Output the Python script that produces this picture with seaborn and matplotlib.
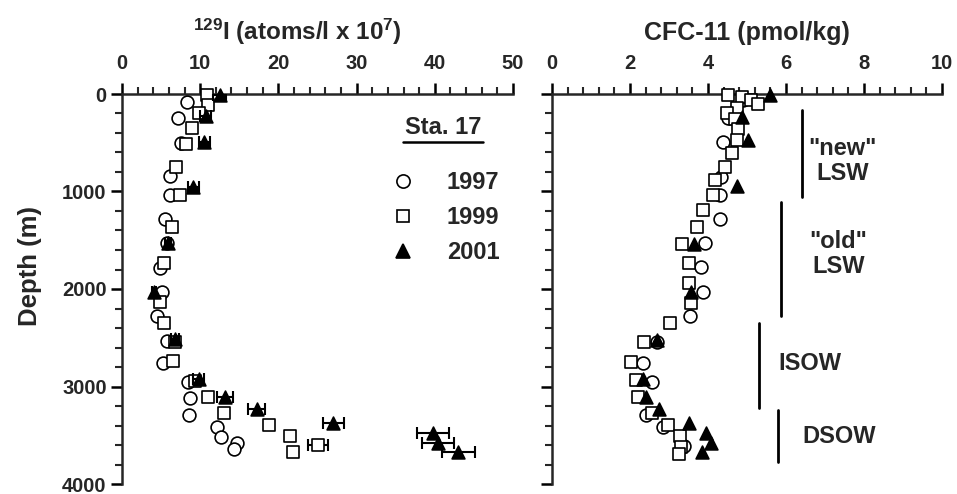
import numpy as np
import pandas as pd
import seaborn as sns
import matplotlib
matplotlib.use("Agg")
import matplotlib.pyplot as plt
from matplotlib.ticker import MultipleLocator
from matplotlib.lines import Line2D

# ---------------- data: 129I (atoms/l x 1e7) ----------------
i_depth_1997 = [80, 250, 505, 840, 1036, 1285, 1525, 1788, 2028, 2277, 2530, 2756,
                2950, 3120, 3292, 3418, 3515, 3583, 3644]
i_val_1997 = [8.3, 7.1, 7.6, 6.2, 6.2, 5.5, 5.8, 4.9, 5.1, 4.5, 5.8, 5.2,
              8.5, 8.7, 8.6, 12.1, 12.6, 14.7, 14.3]

i_depth_1999 = [10, 115, 200, 350, 513, 745, 1036, 1360, 1730, 2130, 2345, 2545,
                2738, 2940, 3110, 3268, 3395, 3508, 3600, 3668]
i_val_1999 = [10.9, 11.0, 9.8, 9.0, 8.2, 6.9, 7.4, 6.4, 5.4, 4.9, 5.4, 6.8,
              6.5, 9.3, 11.0, 13.0, 18.8, 21.5, 25.1, 21.9]
i_err_1999 = [0, 0, 0, 0, 0, 0, 0, 0, 0, 0, 0, 0,
              0, 0, 0, 0, 0, 0, 1.3, 0]

i_depth_2001 = [10, 230, 495, 957, 1525, 2030, 2516, 2926, 3110, 3234, 3378, 3480, 3575, 3668]
i_val_2001 = [12.5, 10.7, 10.5, 9.1, 5.9, 4.1, 6.8, 9.8, 13.2, 17.2, 27.0, 39.8, 40.4, 43.0]
i_err_2001 = [0.8, 0.7, 0.7, 0.7, 0.4, 0.3, 0.5, 0.7, 1.0, 1.1, 1.35, 2.05, 2.0, 2.1]

# ---------------- data: CFC-11 (pmol/kg) ----------------
c_depth_1997 = [60, 250, 489, 848, 1036, 1285, 1525, 1778, 2028, 2277, 2540, 2756,
                2950, 3292, 3418, 3610]
c_val_1997 = [4.9, 4.5, 4.38, 4.33, 4.31, 4.31, 3.92, 3.81, 3.86, 3.54, 2.68, 2.33,
              2.56, 2.41, 2.84, 3.38]

c_depth_1999 = [10, 30, 60, 100, 140, 200, 260, 360, 470, 610, 745, 880, 1036, 1190,
                1360, 1538, 1737, 1935, 2140, 2345, 2540, 2745, 2933, 3110, 3275,
                3395, 3508, 3617, 3692]
c_val_1999 = [4.52, 4.86, 5.09, 5.29, 4.75, 4.48, 4.69, 4.78, 4.74, 4.61, 4.44, 4.18,
              4.14, 3.88, 3.73, 3.33, 3.50, 3.50, 3.56, 3.03, 2.36, 2.02, 2.15, 2.21,
              2.56, 2.98, 3.28, 3.30, 3.26]

c_depth_2001 = [10, 233, 472, 943, 1538, 2028, 2523, 2926, 3110, 3234, 3370, 3474, 3583, 3668]
c_val_2001 = [5.6, 4.86, 5.03, 4.75, 3.64, 3.56, 2.68, 2.34, 2.41, 2.75, 3.50, 3.95, 4.07, 3.84]

years = ["1997", "1999", "2001"]
station = "Sta. 17"

# water masses: label lines, bracket x (CFC units), depth range
wm_names = ['"new"\nLSW', '"old"\nLSW', "ISOW", "DSOW"]
wm_x = [6.40, 5.86, 5.31, 5.79]
wm_top = [164, 1105, 2352, 3241]
wm_bot = [1053, 2277, 3224, 3771]

# ---------------- style ----------------
sns.set_style("ticks")
plt.rcParams["font.family"] = ["Liberation Sans", "DejaVu Sans"]
plt.rcParams["font.weight"] = "bold"
plt.rcParams["axes.labelweight"] = "bold"
plt.rcParams["mathtext.fontset"] = "custom"
plt.rcParams["mathtext.rm"] = "Liberation Sans:bold"
plt.rcParams["mathtext.bf"] = "Liberation Sans:bold"
plt.rcParams["mathtext.it"] = "Liberation Sans:bold"

W, H = 957, 494
fig = plt.figure(figsize=(W / 100, H / 100), dpi=100)
axL = fig.add_axes([122 / W, 10 / H, 391 / W, 390 / H])
axR = fig.add_axes([552 / W, 10 / H, 390 / W, 390 / H])

MS = 85
LW = 1.2


def style(ax, xmax, major, minor, ylabels):
    ax.set_xlim(0, xmax)
    ax.set_ylim(4000, 0)
    ax.xaxis.tick_top()
    ax.xaxis.set_label_position("top")
    ax.xaxis.set_major_locator(MultipleLocator(major))
    ax.xaxis.set_minor_locator(MultipleLocator(minor))
    ax.yaxis.set_major_locator(MultipleLocator(1000))
    ax.yaxis.set_minor_locator(MultipleLocator(200))
    for s in ["right", "bottom"]:
        ax.spines[s].set_visible(False)
    for s in ["left", "top"]:
        ax.spines[s].set_linewidth(1.8)
    ax.tick_params(which="major", direction="out", length=8, width=1.8,
                   labelsize=14.5, pad=3, color="black")
    ax.tick_params(axis="x", which="major", pad=7)
    ax.tick_params(which="minor", direction="out", length=5, width=1.5)
    ax.tick_params(axis="y", labelleft=ylabels)
    ax.set_ylabel("")
    for lab in ax.get_xticklabels() + ax.get_yticklabels():
        lab.set_fontweight("bold")


def draw(ax, d97, v97, d99, v99, d01, v01, e99=None, e01=None):
    sns.scatterplot(x=v97, y=d97, ax=ax, marker="o", s=MS, color="white",
                    edgecolor="black", linewidth=LW, clip_on=False, zorder=3)
    if e99 is not None:
        ax.errorbar(v99, d99, xerr=e99, fmt="none", ecolor="black",
                    elinewidth=1.5, capsize=4, capthick=1.5, zorder=3)
    sns.scatterplot(x=v99, y=d99, ax=ax, marker="s", s=MS, color="white",
                    edgecolor="black", linewidth=LW, clip_on=False, zorder=4)
    if e01 is not None:
        ax.errorbar(v01, d01, xerr=e01, fmt="none", ecolor="black",
                    elinewidth=1.5, capsize=4, capthick=1.5, zorder=5)
    sns.scatterplot(x=v01, y=d01, ax=ax, marker="^", s=MS, color="black",
                    edgecolor="black", linewidth=LW, clip_on=False, zorder=6)


draw(axL, i_depth_1997, i_val_1997, i_depth_1999, i_val_1999,
     i_depth_2001, i_val_2001, i_err_1999, i_err_2001)
draw(axR, c_depth_1997, c_val_1997, c_depth_1999, c_val_1999,
     c_depth_2001, c_val_2001)

style(axL, 50, 10, 2, True)
style(axR, 10, 2, 0.4, False)

axL.set_xlabel(r"$^{129}$I (atoms/l x 10$^{7}$)", fontsize=17.5, labelpad=10,
               fontweight="bold", x=0.448)
axR.set_xlabel("CFC-11 (pmol/kg)", fontsize=18, labelpad=10, fontweight="bold")
axL.set_ylabel("Depth (m)", fontsize=18.5, fontweight="bold")
axL.yaxis.set_label_coords(-0.205, 0.56)

# legend
handles = [
    Line2D([], [], marker="o", ls="none", mfc="white", mec="black", ms=9.5, mew=LW),
    Line2D([], [], marker="s", ls="none", mfc="white", mec="black", ms=9.0, mew=LW),
    Line2D([], [], marker="^", ls="none", mfc="black", mec="black", ms=9.5, mew=LW),
]
leg = axL.legend(handles, years, loc="upper left", bbox_to_anchor=(0.688, 0.802),
                 frameon=False, fontsize=17, handlelength=1.0, handletextpad=1.37,
                 labelspacing=0.51, borderpad=0, borderaxespad=0)
for t in leg.get_texts():
    t.set_fontweight("bold")
axL.text(0.821, 0.913, station, transform=axL.transAxes, ha="center", va="center",
         fontsize=17, fontweight="bold")
axL.plot([0.719, 0.923], [0.878, 0.878], transform=axL.transAxes, color="black",
         lw=1.8, clip_on=False)

# water mass brackets and labels
wm_tx = [7.45, 7.35, 6.62, 7.37]
wm_ty = [690, 1640, 2760, 3510]
for name, x, t, b, tx, ty in zip(wm_names, wm_x, wm_top, wm_bot, wm_tx, wm_ty):
    axR.plot([x, x], [t, b], color="black", lw=2)
    axR.text(tx, ty, name, ha="center", va="center", fontsize=17,
             fontweight="bold", linespacing=1.1)

fig.savefig("out.png", dpi=100)
